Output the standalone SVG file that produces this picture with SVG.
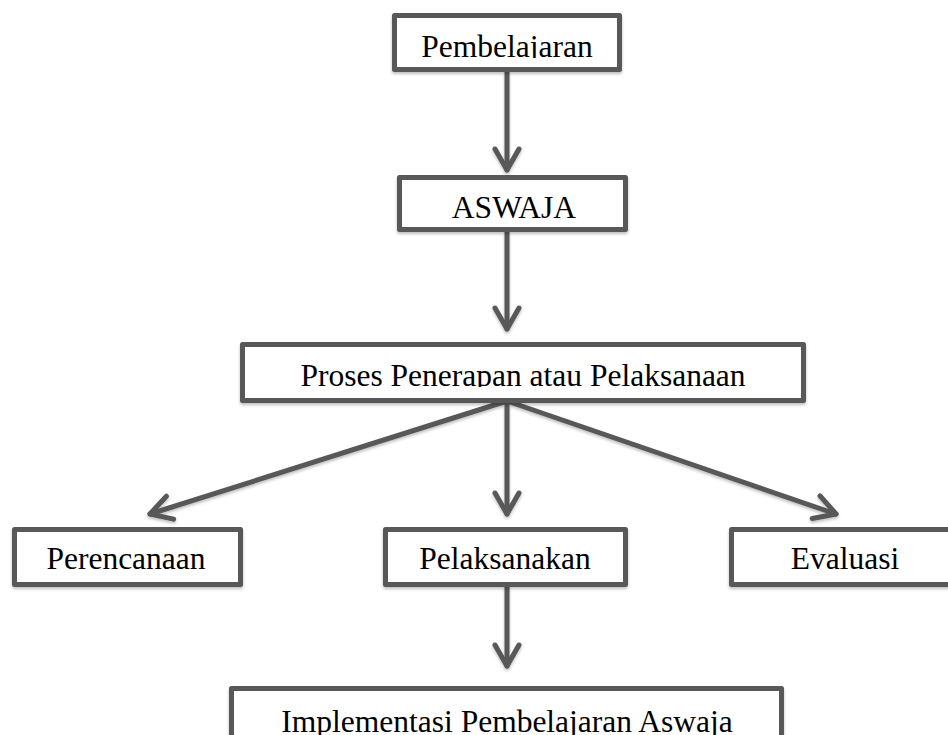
<svg xmlns="http://www.w3.org/2000/svg" width="948" height="735" viewBox="0 0 948 735">
<defs>
<style>
.box{fill:#fff;stroke:#595959;stroke-width:5;stroke-linejoin:round}
.lbl{font-family:"Liberation Serif","Times New Roman",serif;font-size:31.5px;fill:#000;text-anchor:middle}
.conn{stroke:#595959;stroke-width:5;fill:none;stroke-linecap:round}
</style>
<marker id="chev" markerUnits="userSpaceOnUse" viewBox="-30 -20 40 40" markerWidth="40" markerHeight="40" refX="0" refY="0" orient="auto" overflow="visible">
<path d="M-21,-12 L0,0 L-21,12" fill="none" stroke="#595959" stroke-width="5" stroke-linecap="round" stroke-linejoin="round"/>
</marker>
<filter id="sh" x="-10%" y="-10%" width="120%" height="130%">
<feDropShadow dx="0" dy="2" stdDeviation="1.5" flood-color="#000" flood-opacity="0.25"/>
</filter>
<clipPath id="c1"><rect x="394" y="15" width="226" height="43"/></clipPath>
<clipPath id="c2"><rect x="399" y="177" width="227" height="42"/></clipPath>
<clipPath id="c3"><rect x="242" y="345" width="562" height="42"/></clipPath>
</defs>
<rect width="948" height="735" fill="#fff"/>
<g id="connectors" filter="url(#sh)">
<line class="conn" x1="507" y1="72" x2="507" y2="170" marker-end="url(#chev)"/>
<line class="conn" x1="507" y1="232" x2="507" y2="329" marker-end="url(#chev)"/>
<line class="conn" x1="507" y1="401" x2="150" y2="514" marker-end="url(#chev)"/>
<line class="conn" x1="507" y1="401" x2="507" y2="514" marker-end="url(#chev)"/>
<line class="conn" x1="507" y1="401" x2="836" y2="514" marker-end="url(#chev)"/>
<line class="conn" x1="507" y1="586" x2="507" y2="666" marker-end="url(#chev)"/>
</g>
<g id="pembelajaran">
<rect class="box" filter="url(#sh)" x="394.5" y="15.5" width="225" height="54"/>
<text class="lbl" x="507" y="57" clip-path="url(#c1)">Pembelajaran</text>
</g>
<g id="aswaja">
<rect class="box" filter="url(#sh)" x="399.5" y="177.5" width="226" height="52"/>
<text class="lbl" x="514" y="218" clip-path="url(#c2)">ASWAJA</text>
</g>
<g id="proses">
<rect class="box" filter="url(#sh)" x="242.5" y="344.5" width="561" height="56"/>
<text class="lbl" x="523" y="386" clip-path="url(#c3)">Proses Penerapan atau Pelaksanaan</text>
</g>
<g id="perencanaan">
<rect class="box" filter="url(#sh)" x="14.5" y="529.5" width="226" height="55"/>
<text class="lbl" x="126" y="569">Perencanaan</text>
</g>
<g id="pelaksanakan">
<rect class="box" filter="url(#sh)" x="385.5" y="529.5" width="240" height="55"/>
<text class="lbl" x="505" y="569">Pelaksanakan</text>
</g>
<g id="evaluasi">
<rect class="box" filter="url(#sh)" x="731.5" y="529.5" width="225" height="55"/>
<text class="lbl" x="845" y="569">Evaluasi</text>
</g>
<g id="implementasi">
<rect class="box" filter="url(#sh)" x="231.5" y="688.5" width="550" height="60"/>
<text class="lbl" x="507" y="732">Implementasi Pembelajaran Aswaja</text>
</g>
</svg>
